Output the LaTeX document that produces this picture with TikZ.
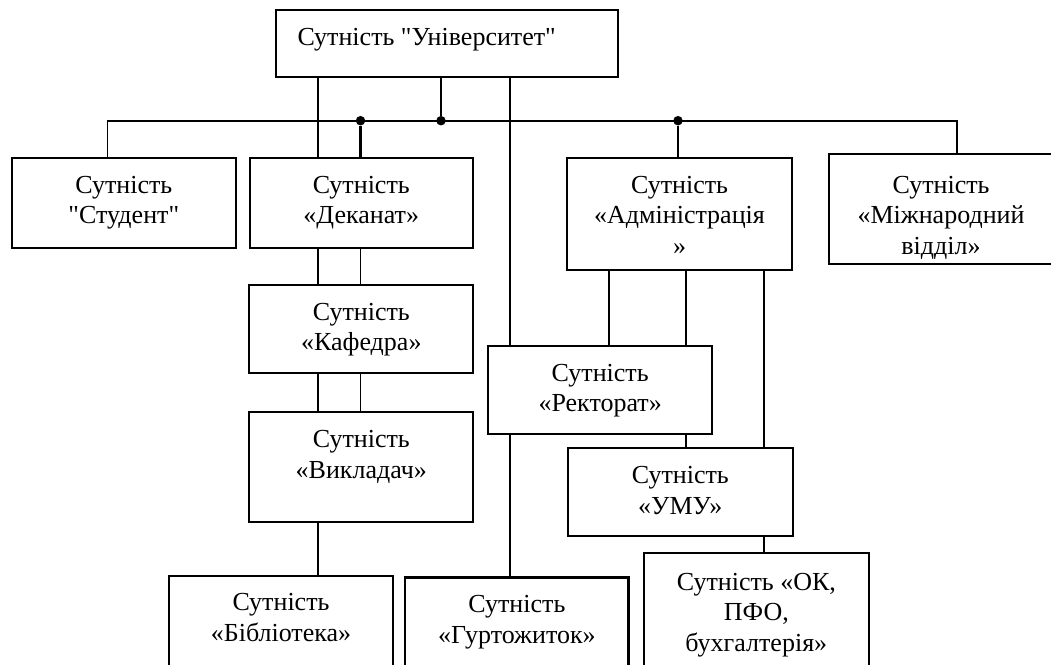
\documentclass[tikz,border=0pt]{standalone}
\usepackage{fontspec}
\setmainfont{Liberation Serif}[Ligatures=TeXOff]
\begin{document}
\begin{tikzpicture}[x=1pt,y=-1pt,
  box/.style={draw, line width=2pt, fill=white, inner sep=0pt, outer sep=0pt, anchor=north west},
  heavybox/.style={box, line width=2.8pt},
  txt/.style={inner sep=0pt, outer sep=0pt, align=center, anchor=north, yshift=-18.2pt,
              font=\fontsize{26}{30.5}\selectfont},
  conn/.style={line width=1.9pt},
  trunk/.style={line width=2.8pt},
  junction/.style={circle, fill, inner sep=0pt, minimum size=9.5pt}]

\useasboundingbox (0,0) rectangle (1051,664);
\clip (0,0) rectangle (1051,664);

% vertical connector tracks
\coordinate (xs) at (107.5,0);
\coordinate (xa) at (318,0);
\coordinate (xb) at (360.5,0);
\coordinate (xc) at (510,0);
\coordinate (xd) at (609,0);
\coordinate (xe) at (686,0);
\coordinate (xf) at (763.7,0);
\coordinate (xm) at (956.7,0);

% entities
\node[box, minimum width=342.5pt, minimum height=67pt]  (univ) at (275.5,10) {};
\node[box, minimum width=223.6pt, minimum height=90pt]  (stud) at (12,158) {};
\node[box, minimum width=223.5pt, minimum height=90pt]  (dek)  at (249.5,158) {};
\node[box, minimum width=224.2pt, minimum height=111.5pt] (adm) at (567.4,158) {};
\node[box, minimum width=224pt,   minimum height=110pt] (mizh) at (829,154) {};
\node[box, minimum width=224pt,   minimum height=88pt]  (kaf)  at (249.3,285) {};
\node[box, minimum width=224pt,   minimum height=110pt] (vyk)  at (249.3,412.3) {};
\node[box, minimum width=223.4pt, minimum height=130pt] (bibl) at (169.3,575.5) {};
\node[box, minimum width=224.3pt, minimum height=88pt]  (rekt) at (488,346) {};
\node[heavybox, minimum width=223.7pt, minimum height=130pt] (gurt) at (405,577.3) {};
\node[box, minimum width=224.5pt, minimum height=87.7pt] (umu) at (568,448.3) {};
\node[box, minimum width=224.7pt, minimum height=130pt] (ok)   at (644,552.7) {};

% junctions on the main bus
\node[junction] (j1) at (441,120.7) {};
\node[junction] (j2) at (360.5,120.7) {};
\node[junction] (j3) at (678,120.7) {};

% main bus
\draw[conn] (stud.north -| xs) -- (xs |- j1) -- (xm |- j1) -- (mizh.north -| xm);
\draw[trunk] (univ.south -| j1) -- (j1);
\draw[trunk] (j2) -- (dek.north -| j2);
\draw[trunk] (j3) -- (adm.north -| j3);

% left branch
\draw[conn] (univ.south -| xa) -- (dek.north -| xa);
\draw[conn] (dek.south -| xa) -- (kaf.north -| xa);
\draw[conn] (dek.south -| xb) -- (kaf.north -| xb);
\draw[conn] (kaf.south -| xa) -- (vyk.north -| xa);
\draw[conn] (kaf.south -| xb) -- (vyk.north -| xb);
\draw[conn] (vyk.south -| xa) -- (bibl.north -| xa);

% middle branch
\draw[conn] (univ.south -| xc) -- (rekt.north -| xc);
\draw[conn] (rekt.south -| xc) -- (gurt.north -| xc);

% administration branch
\draw[conn] (adm.south -| xd) -- (rekt.north -| xd);
\draw[conn] (adm.south -| xe) -- (rekt.north -| xe);
\draw[conn] (rekt.south -| xe) -- (umu.north -| xe);
\draw[conn] (adm.south -| xf) -- (umu.north -| xf);
\draw[conn] (umu.south -| xf) -- (ok.north -| xf);

% labels
\node[txt, anchor=north west] (univ-t) at ([xshift=22pt]univ.north west) {Сутність "Університет"};
\node[txt] (stud-t) at (stud.north) {Сутність\\"Студент"};
\node[txt] (dek-t)  at (dek.north)  {Сутність\\«Деканат»};
\node[txt] (adm-t)  at (adm.north)  {Сутність\\«Адміністрація\\»};
\node[txt, yshift=-4pt] (mizh-t) at (mizh.north) {Сутність\\«Міжнародний\\відділ»};
\node[txt] (kaf-t)  at (kaf.north)  {Сутність\\«Кафедра»};
\node[txt] (vyk-t)  at (vyk.north)  {Сутність\\«Викладач»};
\node[txt] (bibl-t) at (bibl.north) {Сутність\\«Бібліотека»};
\node[txt] (rekt-t) at (rekt.north) {Сутність\\«Ректорат»};
\node[txt] (gurt-t) at (gurt.north) {Сутність\\«Гуртожиток»};
\node[txt] (umu-t)  at (umu.north)  {Сутність\\«УМУ»};
\node[txt, yshift=-2pt] (ok-t) at (ok.north) {Сутність «ОК,\\ПФО,\\бухгалтерія»};
\end{tikzpicture}
\end{document}
